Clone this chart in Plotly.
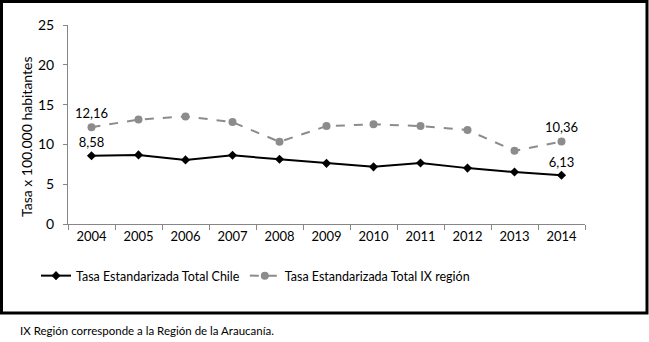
import plotly.graph_objects as go

years = ["2004", "2005", "2006", "2007", "2008", "2009", "2010", "2011", "2012", "2013", "2014"]
chile = [8.58, 8.68, 8.05, 8.63, 8.13, 7.62, 7.18, 7.66, 7.02, 6.53, 6.13]
ix_region = [12.16, 13.12, 13.52, 12.8, 10.32, 12.3, 12.52, 12.3, 11.8, 9.2, 10.36]
chile_labels = ["8,58", "", "", "", "", "", "", "", "", "", "6,13"]
ix_labels = ["12,16", "", "", "", "", "", "", "", "", "", "10,36"]
y_ticks = [0, 5, 10, 15, 20, 25]

FONT = "Lato, 'Open Sans', sans-serif"

fig = go.Figure()
fig.add_trace(go.Scatter(
    x=years, y=chile, name="Tasa Estandarizada Total Chile",
    mode="lines+markers+text", text=chile_labels, textposition="top center",
    textfont=dict(size=13, color="#000000"),
    line=dict(color="#000000", width=2),
    marker=dict(symbol="diamond", size=7, color="#000000"),
))
fig.add_trace(go.Scatter(
    x=years, y=ix_region, name="Tasa Estandarizada Total IX región",
    mode="lines+markers+text", text=ix_labels, textposition="top center",
    textfont=dict(size=13, color="#000000"),
    line=dict(color="#8c8c8c", width=2, dash="dash"),
    marker=dict(symbol="circle", size=8, color="#8c8c8c"),
))

L, R, T, B = 68, 64, 25, 118
W, H = 649, 342
pw, ph = W - L - R, H - T - B

def px_x(p):
    return (p - L) / pw

def px_y(p):
    return (H - B - p) / ph

fig.update_layout(
    width=W, height=H,
    margin=dict(l=L, r=R, t=T, b=B),
    paper_bgcolor="white", plot_bgcolor="white",
    font=dict(family=FONT, size=13, color="#000000"),
    showlegend=True,
    legend=dict(orientation="h", x=px_x(36), y=px_y(261), xanchor="left", yanchor="top",
                font=dict(size=12.5), tracegroupgap=0, bgcolor="rgba(0,0,0,0)"),
    xaxis=dict(type="category", showgrid=False, showline=True, linecolor="#868686", linewidth=1,
               ticks="outside", tickson="boundaries", ticklen=5, tickcolor="#868686",
               tickfont=dict(size=13), range=[-0.5, 10.5]),
    yaxis=dict(range=[0, 25], tickvals=y_ticks, showgrid=False, zeroline=False, showline=True,
               linecolor="#868686", linewidth=1, ticks="outside", ticklen=4, tickcolor="#868686",
               tickfont=dict(size=14), ticklabelstandoff=6),
)

fig.add_annotation(xref="paper", yref="paper", x=px_x(26), y=px_y(137),
                   xanchor="center", yanchor="middle", showarrow=False, textangle=-90,
                   text="Tasa x 100.000 habitantes", font=dict(size=14, color="#000000"))

fig.add_shape(type="rect", xref="paper", yref="paper",
              x0=px_x(1.5), x1=px_x(647), y0=px_y(313), y1=px_y(1.5),
              line=dict(color="#000000", width=3), fillcolor="rgba(0,0,0,0)", layer="above")

fig.add_annotation(xref="paper", yref="paper", x=px_x(18), y=px_y(330),
                   xanchor="left", yanchor="middle", showarrow=False,
                   text="IX Región corresponde a la Región de la Araucanía.",
                   font=dict(size=11.5, color="#000000"))

fig.write_html("out.html")
